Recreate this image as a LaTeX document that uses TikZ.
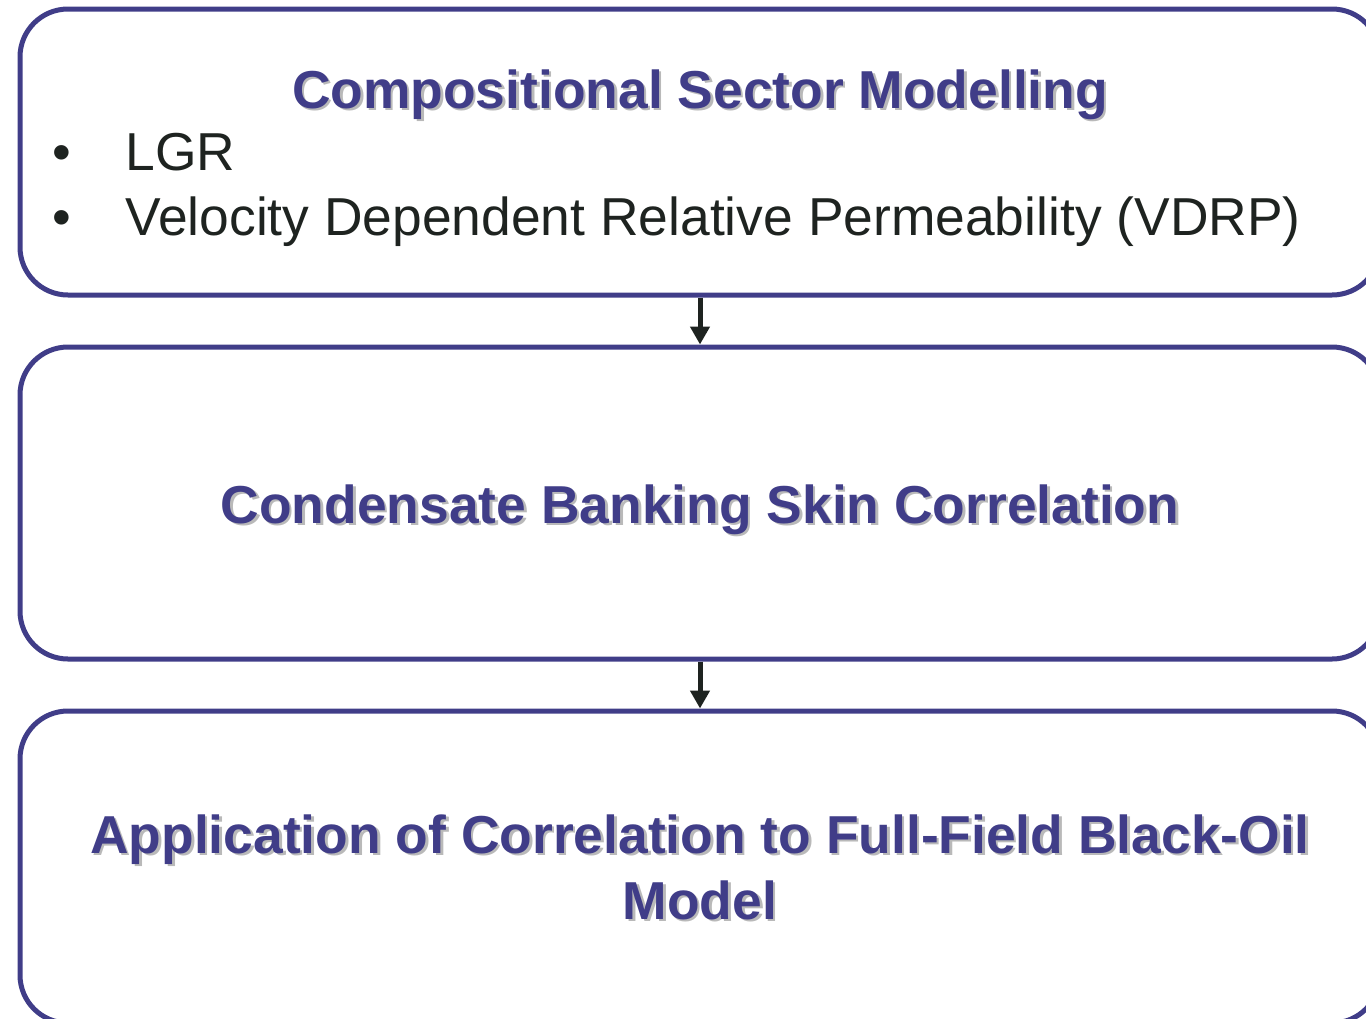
\documentclass[tikz,border=0pt]{standalone}
\usepackage{fontspec}
\setmainfont{Liberation Sans}
\usetikzlibrary{arrows.meta}

\definecolor{boxblue}{RGB}{64,61,136}
\definecolor{inkblack}{RGB}{30,35,32}
\definecolor{shadowgray}{RGB}{185,185,185}

% heading text with a soft grey drop shadow
\newcommand{\shadowed}[1]{\leavevmode\rlap{\kern1.3pt\raisebox{-1.3pt}{\textcolor{shadowgray}{#1}}}#1}

\tikzset{
  stagebox/.style={draw=boxblue, line width=2.5pt, rounded corners=24pt,
    minimum width=680pt, inner sep=0pt},
  heading/.style={text=boxblue, font=\bfseries\fontsize{26.7}{33}\selectfont,
    inner sep=0pt, align=center},
  bullettext/.style={text=inkblack, font=\fontsize{26.7}{31}\selectfont,
    inner sep=0pt, anchor=base west},
  flow/.style={-{Triangle[width=9.5pt,length=9pt]}, draw=inkblack, line width=2.5pt}
}

\begin{document}
\begin{tikzpicture}[x=0.5pt, y=-0.5pt]
    \useasboundingbox (0,0) rectangle (1366,1018);
    \clip (0,0) rectangle (1366,1018);

    % Три этапа
    \node[stagebox, minimum height=143pt] (sector) at (700,152) {};
    \node[stagebox, minimum height=156pt] (skin) at (700,503) {};
    \node[stagebox, minimum height=156pt] (fullfield) at (700,867) {};

    % Первый этап: заголовок и список
    \node[heading, anchor=base] (sectortitle) at (700,108)
        {\shadowed{Compositional Sector Modelling}};
    \node[bullettext, anchor=base] (dotlgr) at (62,170) {•};
    \node[bullettext] (lgr) at (125,170) {LGR};
    \node[bullettext, anchor=base] (dotvdrp) at (62,235) {•};
    \node[bullettext] (vdrp) at (125,235) {Velocity Dependent Relative Permeability (VDRP)};

    % Второй этап
    \node[heading, anchor=base] (skintitle) at (700,523)
        {\shadowed{Condensate Banking Skin Correlation}};

    % Третий этап (base = последняя строка)
    \node[heading, anchor=base] (fieldtitle) at (700,919)
        {\shadowed{Application of Correlation to Full-Field Black-Oil}\\
         \shadowed{Model}};

    % Стрелки между этапами
    \draw[flow] (sector.south) -- (skin.north);
    \draw[flow] (skin.south) -- (fullfield.north);
\end{tikzpicture}
\end{document}
